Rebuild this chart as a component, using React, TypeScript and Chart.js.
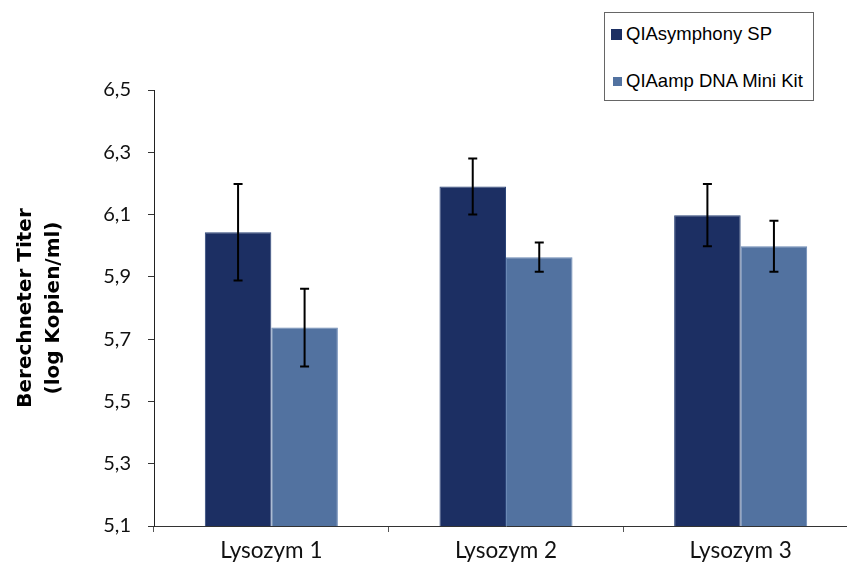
import React, { useEffect, useRef } from 'react';
import { Chart, registerables } from 'chart.js';

Chart.register(...registerables);

const CATEGORIES = ['Lysozym 1', 'Lysozym 2', 'Lysozym 3'];
const SERIES_NAMES = ['QIAsymphony SP', 'QIAamp DNA Mini Kit'];
const QIASYMPHONY = [6.043, 6.19, 6.098];
const QIASYMPHONY_ERR = [0.155, 0.09, 0.1];
const QIAAMP = [5.737, 5.963, 5.998];
const QIAAMP_ERR = [0.125, 0.047, 0.082];
const Y_TICKS = [5.1, 5.3, 5.5, 5.7, 5.9, 6.1, 6.3, 6.5];
const Y_TITLE = ['Berechneter Titer', '(log Kopien/ml)'];
const COLORS = ['#1C2F63', '#5272A0'];
const BORDERS = ['#2B4478', '#6A88B4'];

const errorBarPlugin = {
  id: 'errorBars',
  afterDatasetsDraw(chart: any) {
    const ctx = chart.ctx;
    const y = chart.scales.y;
    chart.data.datasets.forEach((ds: any, i: number) => {
      const meta = chart.getDatasetMeta(i);
      meta.data.forEach((bar: any, j: number) => {
        const v = ds.data[j];
        const e = ds.errors[j];
        const top = y.getPixelForValue(v + e);
        const bot = y.getPixelForValue(v - e);
        ctx.save();
        ctx.strokeStyle = '#000';
        ctx.lineWidth = 2;
        ctx.beginPath();
        ctx.moveTo(bar.x, top);
        ctx.lineTo(bar.x, bot);
        ctx.moveTo(bar.x - 4.5, top);
        ctx.lineTo(bar.x + 4.5, top);
        ctx.moveTo(bar.x - 4.5, bot);
        ctx.lineTo(bar.x + 4.5, bot);
        ctx.stroke();
        ctx.restore();
      });
    });
  },
};

export default function App() {
  const ref = useRef<HTMLCanvasElement>(null);

  useEffect(() => {
    if (!ref.current) return;
    const chart = new Chart(ref.current, {
      type: 'bar',
      data: {
        labels: CATEGORIES,
        datasets: [
          {
            label: SERIES_NAMES[0],
            data: QIASYMPHONY,
            errors: QIASYMPHONY_ERR,
            backgroundColor: COLORS[0],
            borderColor: BORDERS[0],
            borderWidth: 1,
            categoryPercentage: 0.567,
            barPercentage: 1,
          } as any,
          {
            label: SERIES_NAMES[1],
            data: QIAAMP,
            errors: QIAAMP_ERR,
            backgroundColor: COLORS[1],
            borderColor: BORDERS[1],
            borderWidth: 1,
            categoryPercentage: 0.567,
            barPercentage: 1,
          } as any,
        ],
      },
      options: {
        responsive: false,
        animation: false,
        layout: { padding: { top: 90, left: 0, right: 0, bottom: 0 } },
        plugins: {
          legend: { display: false },
          tooltip: { enabled: false },
        },
        scales: {
          x: {
            grid: {
              display: true,
              drawOnChartArea: false,
              drawTicks: true,
              tickLength: 6,
              color: '#555',
              offset: true,
            },
            border: { display: true, color: '#333', width: 1 },
            ticks: {
              color: '#111',
              padding: 5,
              font: { family: 'Lato', size: 22.5 },
            },
            afterFit: (s: any) => {
              s.height = 41;
            },
          },
          y: {
            min: 5.1,
            max: 6.5,
            grid: {
              display: true,
              drawOnChartArea: false,
              drawTicks: true,
              tickLength: 6,
              color: '#333',
            },
            border: { display: true, color: '#222', width: 1 },
            afterBuildTicks: (s: any) => {
              s.ticks = Y_TICKS.map((v) => ({ value: v }));
            },
            ticks: {
              color: '#111',
              padding: 17,
              font: { family: 'Lato', size: 20 },
              callback: (v: any) => Number(v).toFixed(1).replace('.', ','),
            },
            title: {
              display: true,
              text: Y_TITLE,
              color: '#000',
              padding: { top: 12, bottom: 0 },
              font: { family: 'DejaVu Sans', size: 20, weight: 'bold', lineHeight: 1.4 },
            },
            afterFit: (s: any) => {
              s.width = 154;
            },
          },
        },
      },
      plugins: [errorBarPlugin],
    });
    return () => chart.destroy();
  }, []);

  return (
    <div
      style={{
        position: 'fixed',
        left: 0,
        top: 0,
        width: 847,
        height: 567,
        overflow: 'hidden',
        background: '#fff',
      }}
    >
      <canvas ref={ref} width={858} height={567} style={{ display: 'block' }} />
      <div
        style={{
          position: 'absolute',
          left: 604,
          top: 12,
          width: 208,
          height: 87,
          border: '1px solid #666',
          background: '#fff',
          fontFamily: '"Liberation Sans", Arial, sans-serif',
          fontSize: 18.5,
          color: '#000',
        }}
      >
        {SERIES_NAMES.map((name, i) => (
          <div
            key={name}
            style={{
              position: 'absolute',
              left: 6,
              top: i === 0 ? 10 : 57,
              height: 22,
              display: 'flex',
              alignItems: 'center',
              whiteSpace: 'nowrap',
            }}
          >
            <span
              style={{
                display: 'inline-block',
                width: i === 0 ? 11 : 9,
                height: i === 0 ? 11 : 9,
                marginLeft: i === 0 ? 0 : 2,
                marginRight: 4,
                background: COLORS[i],
              }}
            />
            <span>{name}</span>
          </div>
        ))}
      </div>
    </div>
  );
}
